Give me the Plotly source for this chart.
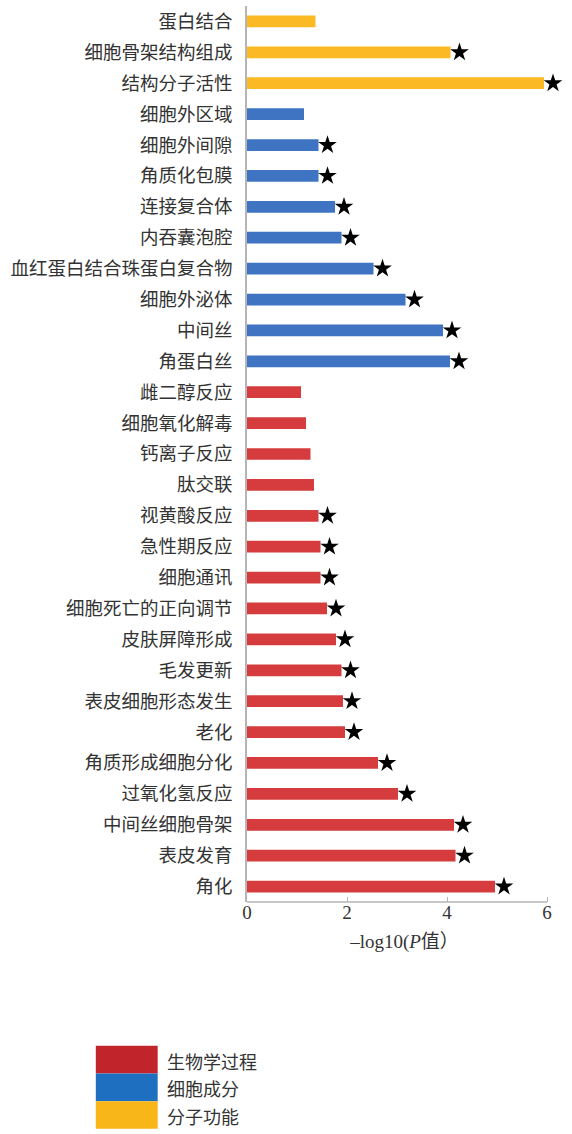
import plotly.graph_objects as go

# GO enrichment terms, listed top to bottom
terms = [
    "蛋白结合", "细胞骨架结构组成", "结构分子活性",
    "细胞外区域", "细胞外间隙", "角质化包膜", "连接复合体", "内吞囊泡腔",
    "血红蛋白结合珠蛋白复合物", "细胞外泌体", "中间丝", "角蛋白丝",
    "雌二醇反应", "细胞氧化解毒", "钙离子反应", "肽交联", "视黄酸反应",
    "急性期反应", "细胞通讯", "细胞死亡的正向调节", "皮肤屏障形成", "毛发更新",
    "表皮细胞形态发生", "老化", "角质形成细胞分化", "过氧化氢反应",
    "中间丝细胞骨架", "表皮发育", "角化",
]
neg_log10_p = [
    1.37, 4.07, 5.94,
    1.14, 1.43, 1.43, 1.76, 1.89,
    2.53, 3.17, 3.92, 4.06,
    1.08, 1.18, 1.27, 1.34, 1.43,
    1.47, 1.47, 1.60, 1.78, 1.89,
    1.92, 1.96, 2.62, 3.02,
    4.14, 4.17, 4.96,
]
# GO category of each term
category = ["MF"] * 3 + ["CC"] * 9 + ["BP"] * 17
significant = [
    False, True, True,
    False, True, True, True, True,
    True, True, True, True,
    False, False, False, False, True,
    True, True, True, True, True,
    True, True, True, True,
    True, True, True,
]
x_ticks = [0, 2, 4, 6]

category_names = {"BP": "生物学过程", "CC": "细胞成分", "MF": "分子功能"}
bar_colors = {"BP": "#d63c3d", "CC": "#3f74c2", "MF": "#fbb923"}
legend_colors = {"BP": "#c2242b", "CC": "#1f6fc1", "MF": "#f8b619"}
axis_grey = "#b5b5b5"

W, H = 572, 1134
unit_px = 50.1
x_max = 6.3  # a little room past 6 so the last star is not cut off
M_L, M_T, M_B = 246.5, 5.5, 231.5
M_R = W - M_L - unit_px * x_max
plot_w = W - M_L - M_R
plot_h = H - M_T - M_B


def px_x(px):
    return (px - M_L) / plot_w


def px_y(py):
    return (H - M_B - py) / plot_h


fig = go.Figure()

fig.add_trace(go.Bar(
    x=neg_log10_p,
    y=terms,
    orientation="h",
    width=0.38,
    marker=dict(color=[bar_colors[c] for c in category], line=dict(width=0)),
    showlegend=False,
    hoverinfo="x+y",
))

# star markers just past the end of significant bars
star_offset = 0.18
star_x = [v + star_offset for v, s in zip(neg_log10_p, significant) if s]
star_y = [t for t, s in zip(terms, significant) if s]
fig.add_trace(go.Scatter(
    x=star_x,
    y=star_y,
    mode="markers",
    marker=dict(symbol="star", size=14, color="black", line=dict(width=0)),
    cliponaxis=False,
    showlegend=False,
    hoverinfo="skip",
))

# x axis baseline running from 0 to the last tick only
fig.add_shape(
    type="line", xref="x", yref="paper",
    x0=x_ticks[0], x1=x_ticks[-1], y0=0, y1=0,
    line=dict(color=axis_grey, width=1.5), layer="above",
)

# legend block below the chart
legend_top = 1046.5
legend_h = 27.7
for i, key in enumerate(["BP", "CC", "MF"]):
    y0 = legend_top + i * legend_h
    y1 = y0 + legend_h
    fig.add_shape(
        type="rect", xref="paper", yref="paper",
        x0=px_x(95), x1=px_x(157), y0=px_y(y1), y1=px_y(y0),
        fillcolor=legend_colors[key], line=dict(width=0), layer="above",
    )
    fig.add_annotation(
        xref="paper", yref="paper",
        x=px_x(164), y=px_y((y0 + y1) / 2 + 1),
        text=category_names[key], showarrow=False,
        xanchor="left", yanchor="middle",
        font=dict(family="Noto Sans CJK SC", size=18, color="#333333"),
    )

fig.update_layout(
    width=W, height=H,
    margin=dict(l=M_L, r=M_R, t=M_T, b=M_B, pad=0),
    paper_bgcolor="white",
    plot_bgcolor="white",
    xaxis=dict(
        range=[0, x_max],
        tickvals=x_ticks,
        ticks="inside", ticklen=5, tickwidth=1, tickcolor=axis_grey,
        showline=False,
        showgrid=False, zeroline=False,
        ticklabelstandoff=-3,
        tickfont=dict(family="Liberation Serif", size=19, color="#333333"),
        title=dict(
            text="–log10(<i>P</i>值）",
            font=dict(family="Liberation Serif, Noto Sans CJK SC", size=19, color="#333333"),
            standoff=12,
        ),
    ),
    yaxis=dict(
        categoryorder="array", categoryarray=terms,
        range=[len(terms) - 0.5, -0.5],
        showline=True, linecolor=axis_grey, linewidth=1.5,
        ticks="", showgrid=False, zeroline=False,
        ticklabelstandoff=9,
        tickfont=dict(family="Noto Sans CJK SC", size=18.5, color="#333333"),
    ),
)

fig.write_html("out.html")
